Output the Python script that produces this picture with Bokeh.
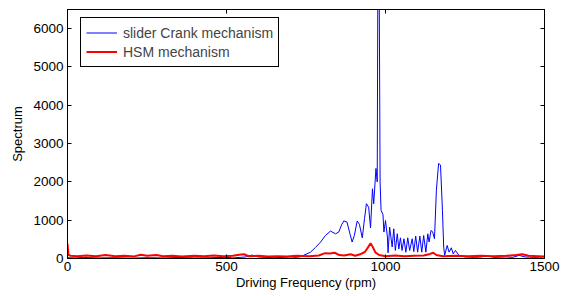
from bokeh.plotting import figure
from bokeh.models import LinearAxis, FixedTicker, Legend, LegendItem
from bokeh.embed import file_html
from bokeh.resources import INLINE

# ---- data ----
slider_rpm = [0, 25, 50, 100, 150, 200, 250, 300, 350, 400, 450, 500, 520, 560, 580, 600,
              620, 650, 680, 700, 720, 733, 750, 764, 780, 796, 811, 827, 843, 853, 862,
              869, 879, 888, 895, 902, 911, 918, 927, 934, 940, 947, 953, 959, 963, 970,
              974, 976, 980, 983, 986, 992, 995, 1000, 1006, 1008, 1013, 1021, 1026, 1031,
              1037, 1042, 1047, 1052, 1058, 1064, 1070, 1076, 1084, 1089, 1095, 1101, 1108,
              1114, 1120, 1127, 1133, 1137, 1143, 1148, 1154, 1160, 1167, 1173, 1179, 1183,
              1186, 1194, 1200, 1207, 1213, 1220, 1231, 1250, 1280, 1300, 1320, 1340, 1380,
              1400, 1420, 1440, 1470, 1500]
slider_spec = [20, 15, 25, 15, 20, 10, 20, 15, 25, 15, 20, 30, 15, 40, 90, 40,
               30, 20, 30, 40, 30, 50, 110, 165, 290, 430, 600, 715, 645, 690, 880,
               980, 950, 650, 430, 600, 980, 890, 540, 1040, 1430, 1340, 800, 1820, 1430, 2350,
               2000, 7500, 7500, 2000, 1260, 1150, 690, 990, 560, 150, 820, 300, 775, 210,
               645, 250, 540, 210, 515, 165, 540, 210, 515, 180, 585, 165, 585,
               165, 600, 165, 645, 430, 730, 700, 515, 1780, 2480, 2440, 1260, 300,
               80, 340, 165, 280, 120, 210, 80, 40, 30, 40, 70, 30, 40,
               30, 80, 40, 30, 40]

hsm_rpm = [0, 3, 10, 30, 60, 90, 120, 150, 180, 210, 230, 250, 280, 300, 330, 360, 400,
           430, 460, 490, 520, 540, 555, 570, 600, 630, 660, 690, 720, 760, 790, 810, 825,
           840, 855, 870, 890, 905, 920, 935, 945, 953, 960, 968, 980, 1000, 1030, 1060,
           1090, 1120, 1140, 1150, 1160, 1180, 1220, 1260, 1300, 1340, 1380, 1410, 1430,
           1450, 1480, 1500]
hsm_spec = [380, 90, 70, 60, 80, 60, 90, 60, 70, 55, 100, 70, 90, 60, 70, 55, 70,
            60, 80, 60, 70, 100, 110, 60, 70, 55, 60, 55, 70, 60, 80, 140, 130,
            150, 90, 80, 110, 70, 110, 170, 290, 400, 300, 160, 90, 60, 80, 60,
            70, 80, 120, 150, 90, 60, 70, 60, 70, 60, 70, 90, 110,
            70, 60, 50]

x_ticks = [0, 500, 1000, 1500]
y_ticks = [0, 1000, 2000, 3000, 4000, 5000, 6000]
FONT = "Liberation Sans"

p = figure(width=565, height=296, x_range=(0, 1500), y_range=(0, 6500),
           output_backend="svg", toolbar_location=None,
           min_border_left=67, min_border_right=21, min_border_top=9, min_border_bottom=38)
p.grid.visible = False
p.outline_line_color = "black"
p.outline_line_alpha = 1.0
p.outline_line_width = 1

r_blue = p.line(slider_rpm, slider_spec, line_color="#0000FF", line_width=1)
r_red = p.line(hsm_rpm, hsm_spec, line_color="#FF0000", line_width=2)

for ax, ticks in ((p.xaxis[0], x_ticks), (p.yaxis[0], y_ticks)):
    ax.ticker = FixedTicker(ticks=ticks)
    ax.major_tick_in = 4
    ax.major_tick_out = 0
    ax.minor_tick_line_color = None
    ax.major_label_text_font = FONT
    ax.major_label_text_font_size = "13.5px"
    ax.major_label_text_color = "black"
    ax.axis_label_text_font = FONT
    ax.axis_label_text_font_size = "13px"
    ax.axis_label_text_font_style = "normal"
    ax.axis_label_text_color = "black"
    ax.axis_line_color = "black"
    ax.major_tick_line_color = "black"

p.xaxis.axis_label = "Driving Frequency (rpm)"
p.yaxis.axis_label = "Spectrum"
p.xaxis.major_label_standoff = 3
p.yaxis.major_label_standoff = 4
p.xaxis.axis_label_standoff = 1
p.yaxis.axis_label_standoff = 5

top = LinearAxis(ticker=FixedTicker(ticks=x_ticks), major_tick_in=4, major_tick_out=0,
                 minor_tick_line_color=None, major_label_text_font_size="0px",
                 major_label_text_color=None, major_label_standoff=0, axis_line_color="black")
right = LinearAxis(ticker=FixedTicker(ticks=y_ticks), major_tick_in=4, major_tick_out=0,
                   minor_tick_line_color=None, major_label_text_font_size="0px",
                   major_label_text_color=None, major_label_standoff=0, axis_line_color="black")
p.add_layout(top, "above")
p.add_layout(right, "right")

legend = Legend(items=[LegendItem(label="slider Crank mechanism", renderers=[r_blue]),
                       LegendItem(label="HSM mechanism", renderers=[r_red])],
                location=(13, 191), margin=0, padding=5, spacing=0,
                label_height=19, glyph_height=19, glyph_width=31, label_standoff=6,
                label_text_font=FONT, label_text_font_size="14px",
                border_line_color="black", border_line_alpha=1.0, border_line_width=1,
                background_fill_alpha=1.0)
p.add_layout(legend, "center")

open("out.html", "w").write(file_html(p, INLINE))
